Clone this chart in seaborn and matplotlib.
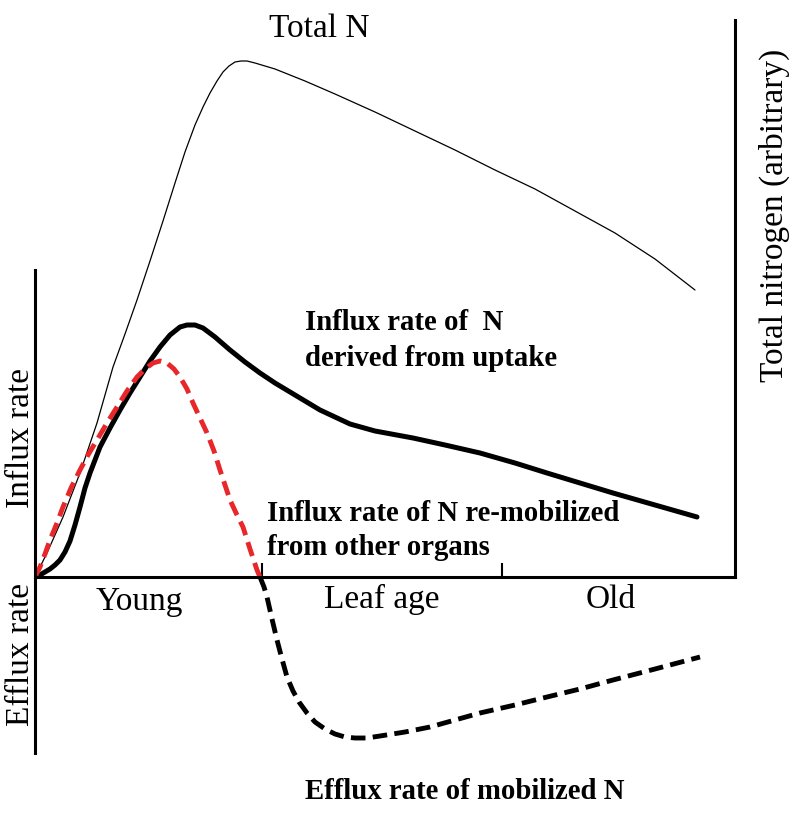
import matplotlib
matplotlib.use("Agg")
import matplotlib.pyplot as plt
import seaborn as sns

# leaf age (arbitrary) and rates / amounts (arbitrary)
total_x = [0, 12, 28, 45, 62, 78, 90, 102, 115, 128, 140, 150, 160, 168, 175, 182, 188, 194, 200, 206,
           212, 220, 240, 270, 300, 340, 380, 420, 460, 500, 540, 580, 620, 660]
total_y = [0, 24, 60, 104, 154, 210, 243, 277, 316, 356, 394, 425, 452, 470, 484, 496, 505, 511, 515, 516,
           516, 514, 508, 496, 483, 465, 446, 427, 407, 388, 366, 344, 318, 287]

uptake_x = [0, 5, 10, 15, 20, 25, 30, 35, 40, 45, 50, 55, 60, 65, 75, 85, 95, 105, 115, 125, 135, 145,
            152, 160, 168, 180, 195, 210, 225, 240, 255, 270, 285, 300, 315, 340, 378, 410, 445, 480,
            512, 545, 578, 620, 662]
uptake_y = [0, 2, 5, 8, 12, 17, 25, 36, 52, 70, 89, 104, 117, 130, 149, 167, 184, 200, 216, 230, 242, 250,
            252, 252, 249, 240, 227, 215, 204, 194, 185, 176, 167, 160, 153, 146, 139, 132, 124, 114,
            104, 94, 84, 72, 60]

remob_x = [0, 5, 10, 15, 22, 28, 36, 45, 53, 62, 72, 82, 92, 102, 110, 118, 125, 132, 139, 145, 152,
           158, 165, 172, 179, 185, 190, 195, 202, 208, 215, 222, 225]
remob_y = [0, 10, 23, 37, 54, 70, 89, 107, 122, 137, 154, 170, 186, 200, 208, 214, 216, 214, 208, 200, 188,
           174, 159, 144, 126, 107, 92, 77, 62, 50, 28, 7, 0]

efflux_x = [225, 229, 232, 237, 242, 247, 252, 258, 264, 272, 280, 290, 300, 310, 320, 332, 345, 370,
            395, 420, 445, 480, 512, 545, 578, 620, 665]
efflux_y = [0, -10, -20, -42, -63, -82, -100, -114, -125, -136, -145, -152, -157, -160, -161, -161, -159,
            -155, -150, -143, -136, -128, -120, -112, -103, -92, -80]

age_ticks = [227, 467]

sns.set_theme(style="white")
plt.rcParams["font.family"] = ["Liberation Serif", "DejaVu Serif"]

fig = plt.figure(figsize=(8, 8.14), dpi=100)
ax = fig.add_axes([35 / 800, 49 / 814, 700 / 800, 750 / 814])

sns.lineplot(x=total_x, y=total_y, sort=False, estimator=None, color="black", lw=0.9, ax=ax)
sns.lineplot(x=uptake_x, y=uptake_y, sort=False, estimator=None, color="black", lw=3.6, ax=ax)
sns.lineplot(x=efflux_x, y=efflux_y, sort=False, estimator=None, color="black", lw=3.5,
             linestyle=(0, (3, 1.5)), ax=ax)
sns.lineplot(x=remob_x, y=remob_y, sort=False, estimator=None, color="#e8272b", lw=3.5,
             linestyle=(0, (3, 1.5)), ax=ax)

ax.set_xlim(0, 700)
ax.set_ylim(-188, 562)
ax.set_yticks([])
ax.set_xticks(age_ticks)
ax.tick_params(axis="x", direction="in", length=10, width=1.5, color="black",
               labelbottom=False, bottom=True)

for s in ax.spines.values():
    s.set_color("black")
    s.set_linewidth(2.2)
ax.spines["top"].set_visible(False)
ax.spines["bottom"].set_position(("data", 0))
ax.spines["bottom"].set_bounds(0, 700)
ax.spines["left"].set_bounds(-176, 307)
ax.spines["right"].set_bounds(0, 557)


def px(x, y):
    return x / 800, 1 - y / 814


reg = dict(fontsize=24, color="black")
bold = dict(fontsize=20.7, color="black", fontweight="bold")

fig.text(*px(319, 37), "Total N", ha="center", va="baseline", **reg)
fig.text(*px(139, 610), "Young", ha="center", va="baseline", **reg)
fig.text(*px(382, 608), "Leaf age", ha="center", va="baseline", **reg)
fig.text(*px(611, 608), "Old", ha="center", va="baseline", **reg)

fig.text(*px(21, 438), "Influx rate", rotation=90, ha="center", va="center", **reg)
fig.text(*px(21, 655), "Efflux rate", rotation=90, ha="center", va="center", **reg)
fig.text(*px(774, 215), "Total nitrogen (arbitrary)", rotation=90, ha="center", va="center", **reg)

fig.text(*px(305, 330), "Influx rate of  N", ha="left", va="baseline", **bold)
fig.text(*px(305, 366), "derived from uptake", ha="left", va="baseline", **bold)
fig.text(*px(267, 521), "Influx rate of N re-mobilized", ha="left", va="baseline", **bold)
fig.text(*px(267, 555), "from other organs", ha="left", va="baseline", **bold)
fig.text(*px(305, 799), "Efflux rate of mobilized N", ha="left", va="baseline", **bold)

fig.savefig("out.png", dpi=100, facecolor="white")
